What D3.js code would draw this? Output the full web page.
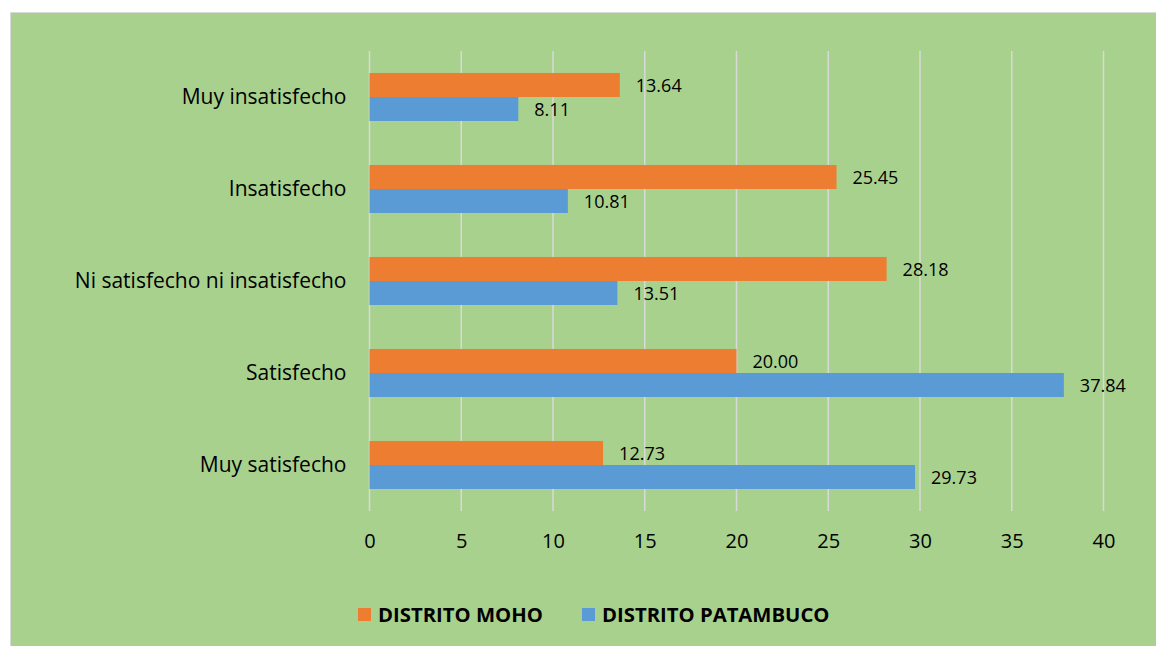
<!DOCTYPE html>
<html>
<head>
<meta charset="utf-8">
<script src="https://cdn.jsdelivr.net/npm/d3@7"></script>
<style>
  body { margin: 0; background: #fff; overflow: hidden; }
  svg { display: block; }
  text { font-family: "Open Sans", sans-serif; fill: #000; }
</style>
</head>
<body>
<div class="chart"></div>
<script>
// data
var categories = ["Muy insatisfecho", "Insatisfecho", "Ni satisfecho ni insatisfecho", "Satisfecho", "Muy satisfecho"];
var seriesNames = ["DISTRITO MOHO", "DISTRITO PATAMBUCO"];
var moho = [13.64, 25.45, 28.18, 20.00, 12.73];
var patambuco = [8.11, 10.81, 13.51, 37.84, 29.73];
var xTicks = [0, 5, 10, 15, 20, 25, 30, 35, 40];

var colors = ["#ED7D31", "#5B9BD5"];
var font = "'Open Sans', sans-serif";

var svgWidth = 1156, svgHeight = 646;
var margin = { top: 51, left: 369.5, right: 52.5, bottom: 135 };
var width = svgWidth - margin.left - margin.right;
var height = svgHeight - margin.top - margin.bottom;

var svg = d3.select(".chart").append("svg")
    .attr("width", svgWidth)
    .attr("height", svgHeight);

// background panel
svg.append("rect")
    .attr("x", 10.5).attr("y", 12.5)
    .attr("width", svgWidth).attr("height", svgHeight)
    .attr("fill", "#A9D18E")
    .attr("stroke", "#D9D9D9")
    .attr("stroke-width", 1);

var chartGroup = svg.append("g")
    .attr("transform", `translate(${margin.left}, ${margin.top})`);

var xScale = d3.scaleLinear().domain([0, 40]).range([0, width]);
var yScale = d3.scaleBand().domain(categories).range([0, height]).paddingInner(0.478).paddingOuter(0.239);
var inner = d3.scaleBand().domain(seriesNames).range([0, yScale.bandwidth()]);

// gridlines
chartGroup.selectAll(".grid")
    .data(xTicks)
    .enter()
    .append("line")
    .attr("x1", d => xScale(d)).attr("x2", d => xScale(d))
    .attr("y1", 0).attr("y2", height)
    .attr("stroke", "#D9D9D9")
    .attr("stroke-width", 1.5);

// x axis labels
var bottomAxis = d3.axisBottom(xScale).tickValues(xTicks).tickSize(0).tickPadding(23);
var xAxis = chartGroup.append("g")
    .attr("transform", `translate(0, ${height})`)
    .call(bottomAxis);
xAxis.select(".domain").remove();
xAxis.selectAll("text").style("font-size", "20px").style("font-family", font).attr("fill", "#000");

// y axis labels
var leftAxis = d3.axisLeft(yScale).tickSize(0).tickPadding(23);
var yAxis = chartGroup.append("g").call(leftAxis);
yAxis.select(".domain").remove();
yAxis.selectAll("text").style("font-size", "21px").style("font-family", font).attr("fill", "#000");

// bars
var rows = categories.map((c, i) => ({ cat: c, vals: [moho[i], patambuco[i]] }));
var groups = chartGroup.selectAll(".cat")
    .data(rows)
    .enter()
    .append("g")
    .attr("transform", d => `translate(0, ${yScale(d.cat)})`);

groups.selectAll("rect")
    .data(d => d.vals.map((v, j) => ({ name: seriesNames[j], value: v, j: j })))
    .enter()
    .append("rect")
    .attr("x", 0)
    .attr("y", d => inner(d.name))
    .attr("width", d => xScale(d.value))
    .attr("height", inner.bandwidth())
    .attr("fill", d => colors[d.j]);

groups.selectAll(".lbl")
    .data(d => d.vals.map((v, j) => ({ name: seriesNames[j], value: v, j: j })))
    .enter()
    .append("text")
    .attr("x", d => xScale(d.value) + 16)
    .attr("y", d => inner(d.name) + inner.bandwidth() / 2 + 1)
    .attr("dy", "0.35em")
    .style("font-size", "18px")
    .text(d => d.value.toFixed(2));

// legend
var legendX = [358, 582];
var legend = svg.selectAll(".legend")
    .data(seriesNames)
    .enter()
    .append("g")
    .attr("transform", (d, i) => `translate(${legendX[i]}, 608)`);
legend.append("rect")
    .attr("width", 13).attr("height", 13)
    .attr("fill", (d, i) => colors[i]);
legend.append("text")
    .attr("x", 20).attr("y", 7)
    .attr("dy", "0.35em")
    .style("font-size", "20.3px")
    .style("font-weight", "bold")
    .text(d => d);
</script>
</body>
</html>
